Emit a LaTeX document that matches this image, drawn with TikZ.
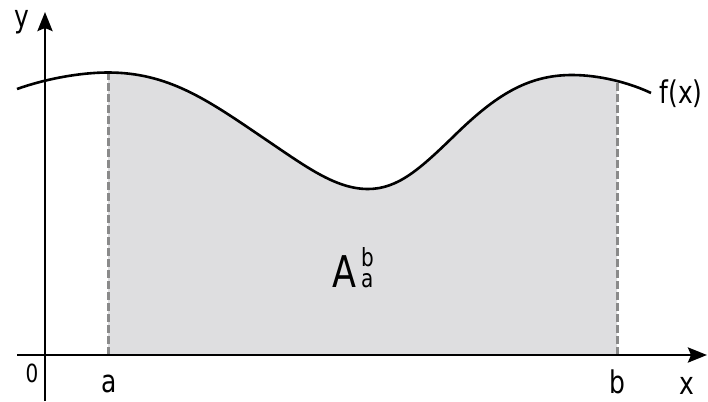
\documentclass[tikz,border=0pt]{standalone}
\usepackage{fontspec}
\setmainfont{DejaVu Sans}
\usetikzlibrary{arrows.meta}
\newcommand{\vst}[1]{\scalebox{1}[1.25]{#1}}
\newcommand{\smallfnt}{\fontsize{20}{22}\selectfont}
\definecolor{areafill}{HTML}{DEDEE0}
\definecolor{dashgray}{HTML}{8A8A8A}
\begin{document}
\begin{tikzpicture}[x=1pt,y=-1pt,
  axisline/.style={line width=2.8pt,-{Stealth[length=19pt,width=15pt,inset=3pt]}},
  curveline/.style={line width=2.6pt},
  boundline/.style={line width=3pt,draw=dashgray,dash pattern=on 8pt off 3pt},
  lbl/.style={inner sep=0pt,font=\fontsize{25}{30}\selectfont},
  small/.style={inner sep=0pt,font=\smallfnt}]
\useasboundingbox (0,0) rectangle (708,401);
\def\curvepath{(17,89) .. controls (45,79) and (80,72.5) .. (108,72.5)
  .. controls (168,72.5) and (207,99.6) .. (262,137)
  .. controls (305,166) and (335,189) .. (368,189)
  .. controls (398,189) and (420,169) .. (455,135)
  .. controls (495,96) and (527,75) .. (572,75)
  .. controls (600,75) and (630,83) .. (651,93)}
% shaded area
\begin{scope}
  \clip (108,0) rectangle (617,355);
  \fill[areafill] \curvepath -- (651,355) -- (17,355) -- cycle;
\end{scope}
% coordinates
\coordinate (ytop) at (45,12);
\coordinate (ybot) at (45,401);
\coordinate (xleft) at (17,355);
\coordinate (xright) at (707,355);
\coordinate (atop) at (108,72.5);
\coordinate (abot) at (108,355);
\coordinate (btop) at (617,81);
\coordinate (bbot) at (617,355);
% bounds
\draw[boundline] (abot) -- (atop);
\draw[boundline] (bbot) -- (btop);
% curve
\draw[curveline] \curvepath;
% axes
\draw[axisline] (ybot) -- (ytop);
\draw[axisline] (xleft) -- (xright);
% labels
\node[lbl] (ylab) at (22,22) {\vst{y}};
\node[small] (zero) at (32,373) {\vst{0}};
\node[lbl] (alab) at (109,384) {\vst{a}};
\node[lbl] (blab) at (617,382) {\vst{b}};
\node[lbl] (xlab) at (687,386) {\vst{x}};
\node[lbl] (flab) at (681,94) {\vst{f(x)}};
\node[inner sep=0pt,font=\fontsize{35}{40}\selectfont,anchor=base west] (Alab) at (332,287)
  {\vst{A}\kern5pt{\smallfnt\rlap{\raisebox{20.5pt}{\vst{b}}}\raisebox{-0.5pt}{\vst{a}}}};
\end{tikzpicture}
\end{document}
